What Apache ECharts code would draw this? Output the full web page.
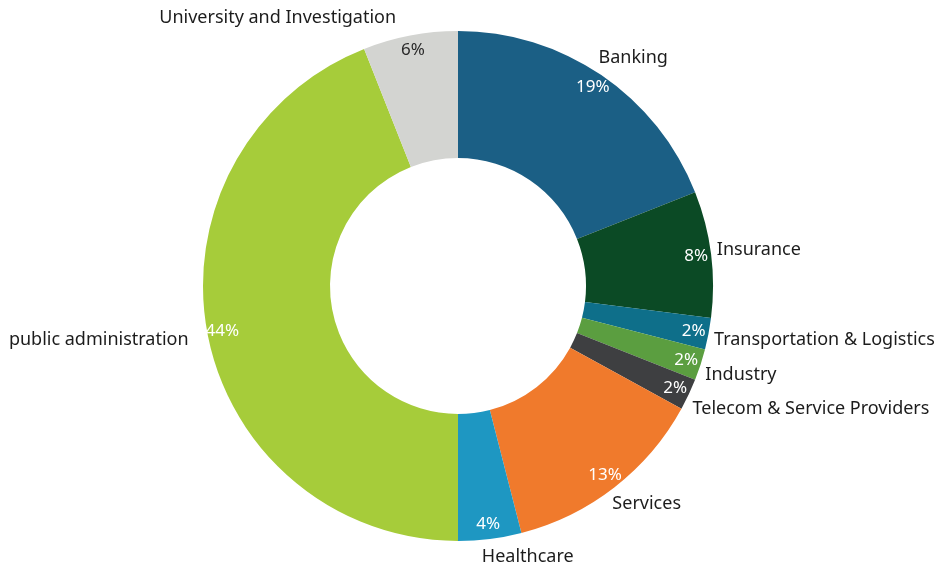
<!DOCTYPE html>
<html>
<head>
<meta charset="utf-8">
<script src="https://cdn.jsdelivr.net/npm/echarts@6/dist/echarts.min.js"></script>
<style>
  html, body { margin: 0; padding: 0; background: #ffffff; }
  #chart { width: 947px; height: 567px; }
</style>
</head>
<body>
<div id="chart"></div>
<script>
// Sector shares (percent), clockwise from 12 o'clock
const sectors = [
  'Banking',
  'Insurance',
  'Transportation & Logistics',
  'Industry',
  'Telecom & Service Providers',
  'Services',
  'Healthcare',
  'public administration',
  'University and Investigation'
];
const shares = [19, 8, 2, 2, 2, 13, 4, 44, 6];
const sectorColors = [
  '#1b5f85', '#0b4a25', '#0e6f8a', '#5b9e40', '#3e3f41',
  '#f07a2c', '#1e97c2', '#a6cc3a', '#d3d4d1'
];
const percentTextColors = [
  '#ffffff', '#ffffff', '#ffffff', '#ffffff', '#ffffff',
  '#ffffff', '#ffffff', '#ffffff', '#2a2a2a'
];

const FONT = '"Noto Sans", "Open Sans", sans-serif';
const CENTER = [458, 286];
const RADIUS = [128, 255];
const NAME_RING = 261;   // name labels start just outside this circle
const HALF_LINE = 12;    // half the height of a name label

const chart = echarts.init(document.getElementById('chart'), null, { renderer: 'canvas' });

// mid-angle of each slice (radians, clockwise from 12 o'clock)
const total = shares.reduce((a, b) => a + b, 0);
const midAngles = [];
shares.reduce((acc, v) => {
  midAngles.push((acc + v / 2) / total * Math.PI * 2);
  return acc + v;
}, 0);

// Name labels hug the outer rim: left-aligned on the right half, right-aligned on the left half;
// labels above/below the ring are pushed out by up to half their height
function nameLayout(params) {
  const a = midAngles[params.dataIndex];
  const ux = Math.sin(a);
  const uy = -Math.cos(a);
  const right = ux >= 0;
  const lift = Math.sign(uy) * HALF_LINE * Math.min(1, Math.abs(uy) / 0.45);
  return {
    x: CENTER[0] + NAME_RING * ux + (right ? -9 * uy * uy : -13),
    y: CENTER[1] + NAME_RING * uy + lift,
    align: right ? 'left' : 'right',
    verticalAlign: 'middle'
  };
}

const mainData = sectors.map((name, i) => ({
  name: name,
  value: shares[i],
  itemStyle: { color: sectorColors[i] }
}));

const percentData = sectors.map((name, i) => ({
  name: name,
  value: shares[i],
  label: { color: percentTextColors[i] }
}));

chart.setOption({
  animation: false,
  series: [
    {
      // ring with sector names outside
      type: 'pie',
      center: CENTER,
      radius: RADIUS,
      startAngle: 90,
      clockwise: true,
      avoidLabelOverlap: false,
      silent: true,
      data: mainData,
      label: {
        show: true,
        position: 'outside',
        formatter: '{b}',
        color: '#1c1c1c',
        fontFamily: FONT,
        fontSize: 18
      },
      labelLine: { show: false, length: 0, length2: 0 },
      labelLayout: nameLayout
    },
    {
      // percentage labels near the outer rim
      type: 'pie',
      center: CENTER,
      radius: [219, 255],
      startAngle: 90,
      clockwise: true,
      silent: true,
      data: percentData,
      itemStyle: { color: 'rgba(0,0,0,0)' },
      label: {
        show: true,
        position: 'inside',
        formatter: '{c}%',
        fontFamily: FONT,
        fontSize: 17
      },
      labelLine: { show: false }
    }
  ]
});
</script>
</body>
</html>
